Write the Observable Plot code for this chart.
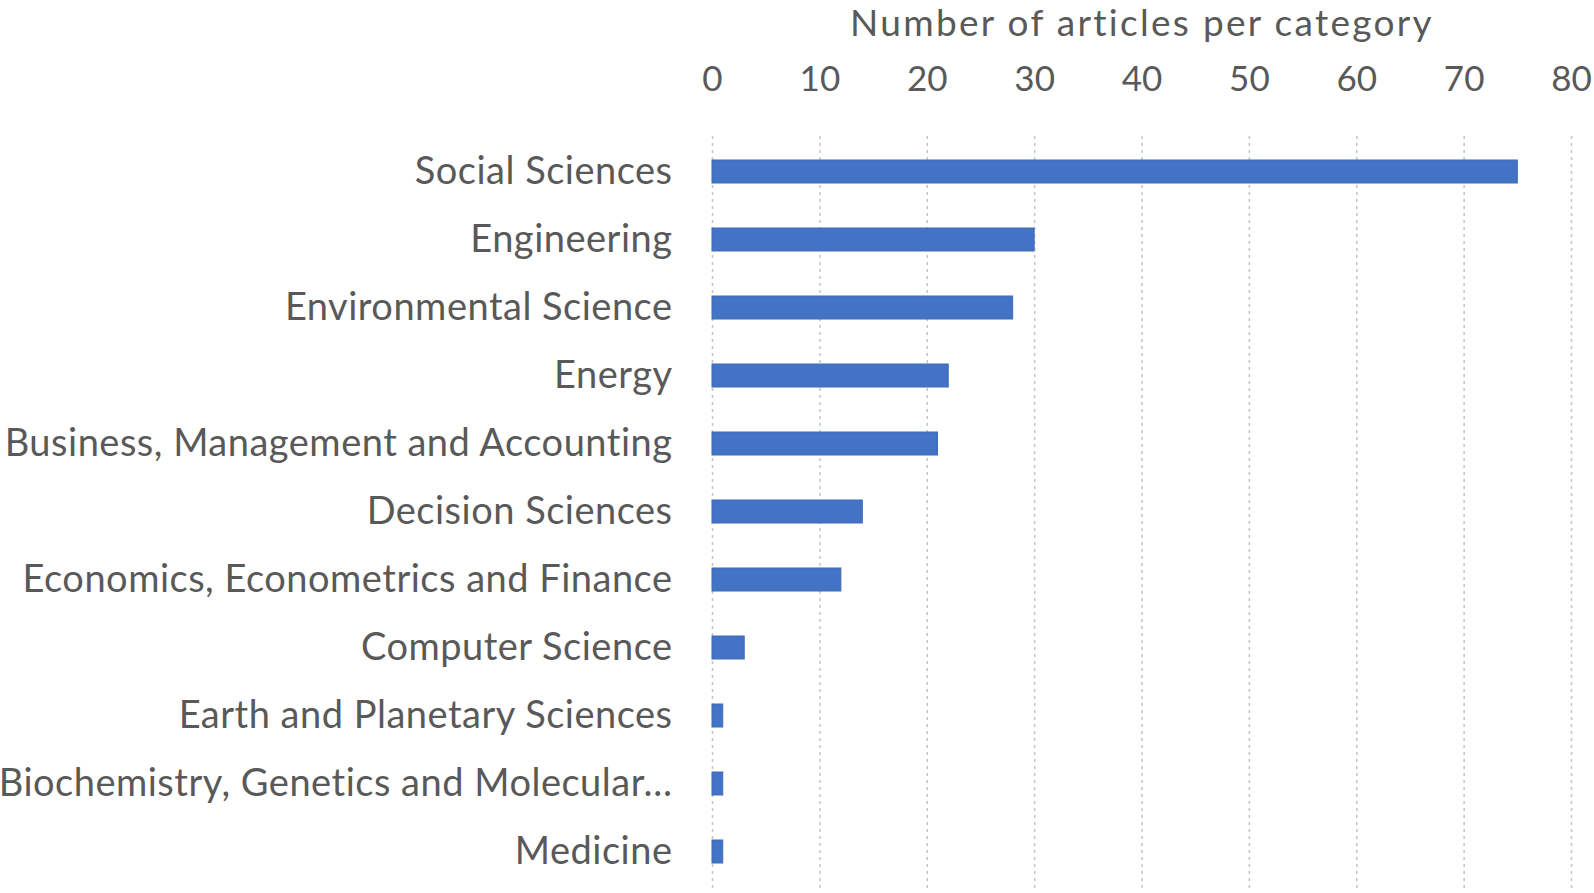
<!DOCTYPE html>
<html>
<head>
<meta charset="utf-8">
<script src="https://cdn.jsdelivr.net/npm/d3@7"></script>
<script src="https://cdn.jsdelivr.net/npm/@observablehq/plot@0.6"></script>
<style>
  html, body { margin: 0; padding: 0; background: #ffffff; }
  #chart { width: 1594px; height: 893px; overflow: hidden; }
</style>
</head>
<body>
<div id="chart"></div>
<script>
const categories = [
  "Social Sciences",
  "Engineering",
  "Environmental Science",
  "Energy",
  "Business, Management and Accounting",
  "Decision Sciences",
  "Economics, Econometrics and Finance",
  "Computer Science",
  "Earth and Planetary Sciences",
  "Biochemistry, Genetics and Molecular…",
  "Medicine"
];
const counts = [75, 30, 28, 22, 21, 14, 12, 3, 1, 1, 1];
const xTicks = [0, 10, 20, 30, 40, 50, 60, 70, 80];
const title = "Number of articles per category";

const data = categories.map((c, i) => ({category: c, count: counts[i]}));

const chart = Plot.plot({
  width: 1594,
  height: 893,
  marginTop: 136,
  marginBottom: 5,
  marginLeft: 712,
  marginRight: 23,
  style: {fontFamily: "Lato, 'Open Sans', sans-serif", color: "#595959", background: "#ffffff"},
  x: {domain: [0, 80], ticks: xTicks, label: title, labelAnchor: "center", labelArrow: "none"},
  y: {domain: categories, paddingInner: 0.66, paddingOuter: 0.33, label: null},
  marks: [
    Plot.gridX(xTicks, {stroke: "#c4c4c4", strokeOpacity: 1, strokeWidth: 1.5, strokeDasharray: "3,4"}),
    Plot.barX(data, {x: "count", y: "category", fill: "#4472C4", stroke: "#3f6ab8", strokeWidth: 1}),
    Plot.axisX({anchor: "top", ticks: xTicks, tickSize: 0, tickPadding: 46, fontSize: 35, label: title, labelAnchor: "center", labelArrow: "none", labelOffset: 127}),
    Plot.axisY({tickSize: 0, tickPadding: 40, fontSize: 38, label: null})
  ]
});
chart.querySelectorAll("[aria-label='x-axis label']").forEach(el => { el.setAttribute("font-size", 37); el.setAttribute("letter-spacing", "2.3px"); });
chart.querySelectorAll("[aria-label='y-axis tick label']").forEach(el => el.setAttribute("letter-spacing", "0.5px"));
document.getElementById("chart").appendChild(chart);
</script>
</body>
</html>
